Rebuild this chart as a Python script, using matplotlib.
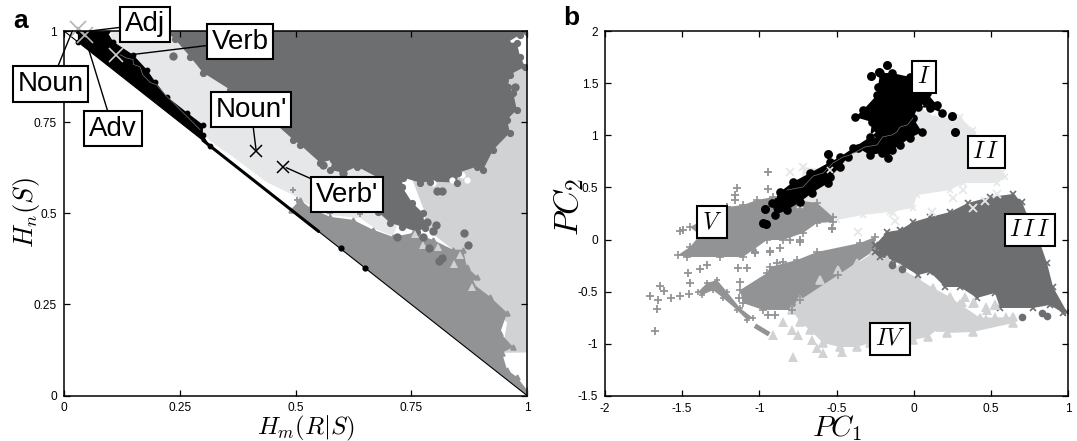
import matplotlib
matplotlib.use("Agg")
import matplotlib.pyplot as plt

plt.rcParams['font.family'] = ['Liberation Sans', 'DejaVu Sans']
plt.rcParams['mathtext.fontset'] = 'cm'

DARK, MID, LIGHT, PALE = '#6d6e70', '#929395', '#d1d2d4', '#e6e7e8'

# ---------- panel a ----------
a_ticks = [0, 0.25, 0.5, 0.75, 1]
a_ticklabels = ['0', '0.25', '0.5', '0.75', '1']

a_pale_x = [.099, .30, .70, .72, .711, .676, .639, .568, .516, .495, .438, .365, .330, .300, .20, .11]
a_pale_y = [1.0, 1.0, .70, .47, .437, .455, .487, .496, .533, .550, .585, .655, .685, .715, .84, .95]

a_light_x = [.963, .996, 1.0, 1.0, .946, .957, .88, .84, .78, .78, .75]
a_light_y = [.880, .902, .905, .118, .117, .20, .30, .40, .46, .50, .60]

a_mid_x = [.490, .510, .531, .575, .624, .667, .711, .754, .797, .840, .862, .870, .892, .881, .920, .957, .942, .970, .946, .957, .978, 1.0, 1.0]
a_mid_y = [.510, .537, .515, .490, .482, .455, .435, .446, .427, .400, .400, .353, .326, .309, .271, .227, .172, .133, .117, .070, .051, .015, 0.0]

a_dark_x = [.220, .240, .272, .300, .359, .430, .495, .510, .553, .581, .575, .603, .633, .678, .678, .704, .730, .762, .780, .775, .752, .730, .732, .769, .790, .849, .851, .892, .905, .927, .963, .957, .978, .970, .959, .963, .996, .985, .978, .957, .985, 1.0, 1.0]
a_dark_y = [1.0, .977, .930, .886, .839, .776, .702, .688, .639, .647, .619, .611, .628, .598, .504, .474, .463, .449, .460, .501, .529, .573, .598, .584, .587, .584, .611, .628, .619, .674, .721, .757, .784, .831, .847, .880, .902, .930, .968, .968, .990, .996, 1.0]

a_black_x = [.052, .093, .106, .149, .179, .197, .222, .266, .300, .300, .315, .03, .03]
a_black_y = [1.0, .999, .971, .935, .894, .861, .820, .776, .743, .716, .685, .97, 1.0]
a_strip_x = [.30, .55]
a_strip_y = [.70, .45]
a_bump_x = [.598, .650]
a_bump_y = [.404, .350]

a_vein_x = [.121, .135, .149, .150, .164, .170, .186, .200, .222, .235, .257, .262, .294]
a_vein_y = [.935, .926, .922, .908, .902, .880, .859, .852, .820, .805, .776, .770, .729]

a_dots_x = [.784, .803, .797, .775, .719, .788, .816, .810, .864, .873, .806, .816, .974, .235, .559, .603]
a_dots_y = [.477, .468, .452, .435, .435, .405, .378, .369, .446, .413, .562, .562, .847, .932, .633, .611]
a_tri_x = [.758, .808, .842, .855, .775, .881]
a_tri_y = [.444, .408, .361, .386, .413, .298]
a_plus_x = [.495, .503, .575, .639]
a_plus_y = [.565, .537, .501, .499]
a_white_x = [.741, .746, .797, .860, .838, .870]
a_white_y = [.584, .570, .584, .606, .592, .590]

a_cross_gray_x = [.030, .045]
a_cross_gray_y = [1.006, .990]
a_cross_verb_x = [.112]
a_cross_verb_y = [.935]
a_cross_prime_x = [.415, .473]
a_cross_prime_y = [.672, .628]

a_labels = ['Noun', 'Adj', 'Adv', 'Verb', "Noun'", "Verb'"]
a_label_x = [-.029, .175, .106, .380, .404, .611]
a_label_y = [.854, 1.018, .732, .971, .784, .551]
a_target_x = [.018, .056, .052, .145, .415, .480]
a_target_y = [1.0, 1.0, .955, .935, .672, .625]

# ---------- panel b ----------
b_xticks = [-2, -1.5, -1, -0.5, 0, 0.5, 1]
b_xticklabels = ['-2', '-1.5', '-1', '-0.5', '0', '0.5', '1']
b_yticks = [-1.5, -1, -0.5, 0, 0.5, 1, 1.5, 2]
b_yticklabels = ['-1.5', '-1', '-0.5', '0', '0.5', '1', '1.5', '2']

b_pale_x = [.041, .151, .300, .385, .572, .592, .540, .320, .235, .022, -.004, -.153, -.328, -.497, -.736, -.717, -.542, -.270]
b_pale_y = [1.262, 1.166, 1.175, 1.051, .648, .600, .542, .542, .475, .427, .303, .264, .236, .188, .331, .696, .667, 1.003]

b_iv_x = [-.263, -.367, -.490, -.607, -.736, -.788, -.736, -.672, -.587, -.477, -.367, -.283, -.004, .093, .171, .216, .384, .644, .644, .430, .300, .235, .125, .022, -.089, -.173]
b_iv_y = [-.129, -.225, -.292, -.388, -.579, -.675, -.790, -.867, -.992, -1.030, -1.030, -.992, -.963, -.934, -.838, -.896, -.886, -.800, -.743, -.750, -.620, -.550, -.464, -.369, -.273, -.196]

b_v_top_x = [-1.527, -1.449, -1.384, -1.449, -1.209, -1.106, -1.015, -.911, -.626, -.523, -.523, -.626, -.717, -.847, -.950, -1.041, -1.106, -1.255, -1.469]
b_v_top_y = [-.148, -.071, .044, .120, .312, .331, .379, .408, .351, .216, .168, .159, .063, -.004, -.004, -.100, -.167, -.167, -.167]

b_v_mid_x = [-1.125, -.950, -.931, -.756, -.626, -.348, -.250, -.250, -.490, -.736, -.788, -.976, -1.106]
b_v_mid_y = [-.484, -.321, -.263, -.196, -.119, -.033, .025, -.100, -.340, -.579, -.675, -.675, -.608]

b_v_low_x = [-1.397, -1.339, -1.274, -1.209, -1.125, -1.041, -1.080, -1.145, -1.235, -1.300, -1.371]
b_v_low_y = [-.503, -.416, -.388, -.503, -.656, -.752, -.771, -.675, -.560, -.484, -.532]
b_v_dash_x = [-1.015, -.950]
b_v_dash_y = [-.838, -.896]

b_iii_x = [-.250, -.173, -.089, -.004, .106, .235, .352, .495, .644, .702, .741, .819, .864, .903, .994, .968, .883, .773, .560, .527, .410, .300, .203, .106, .028, -.134, -.218, -.250]
b_iii_y = [-.052, .073, .092, .168, .216, .264, .351, .408, .437, .360, .216, -.033, -.225, -.455, -.695, -.704, -.627, -.656, -.656, -.512, -.560, -.455, -.455, -.311, -.340, -.196, -.167, -.119]

b_i_x = [-.231, -.218, -.140, -.024, .086, .151, .184, .106, .028, -.004, .054, -.024, -.089, -.140, -.166, -.205, -.283, -.361, -.425, -.477, -.542, -.555, -.659, -.736, -.821, -.898, -.918, -.866, -.782, -.672, -.542, -.477, -.393, -.283, -.270, -.380, -.328, -.238]
b_i_y = [1.463, 1.597, 1.597, 1.559, 1.405, 1.290, 1.214, 1.262, 1.271, 1.166, 1.031, .974, .907, .859, .782, .830, .811, .878, .792, .696, .600, .542, .447, .360, .283, .236, .351, .456, .552, .638, .744, .792, .878, .983, 1.127, 1.175, 1.242, 1.386]
b_i_dots_x = [-.173, -.276, .248, .268, -.555, -.963, -.976, -.955, -.225]
b_i_dots_y = [1.674, 1.568, 1.185, 1.031, .820, .293, .159, .145, 1.610]

b_vein_x = [-.004, -.040, -.089, -.110, -.140, -.200, -.238, -.315, -.412, -.460, -.523, -.587, -.650, -.717, -.821]
b_vein_y = [1.166, 1.100, 1.079, 1.030, 1.003, .985, .907, .888, .811, .790, .734, .638, .610, .504, .475]

b_plus_x = [-1.708, -1.644, -1.618, -1.657, -1.663, -1.676, -1.572, -1.514, -1.456, -1.449, -1.462, -1.384, -1.339, -1.125, -1.132, -1.138, -1.080, -1.028, -.931, -.866, -.885, -.847, -.944, -.898, -.801, -.736, -.944, -.944, -1.145, -1.158, -1.158, -1.209, -1.514, -1.495, -.736, -.529, -1.028, -.931, -.529]
b_plus_y = [-.541, -.445, -.493, -.579, -.666, -.877, -.560, -.541, -.522, -.416, -.321, -.282, -.244, -.407, -.560, -.273, -.273, -.119, -.119, -.081, -.225, -.215, -.723, -.723, -.004, -.004, .648, .485, .494, .427, .379, .312, .082, .092, -.023, .111, -.129, -.110, .101]
b_cross_x = [-.801, -.717, -.361, -.134, -.121, .119, .255, .320]
b_cross_y = [.648, .696, .073, .255, .178, .264, .399, .475]
b_cross_white_x = [.385, .462, .540]
b_cross_white_y = [.303, .370, .437]
b_tri_x = [-.911, -.847, -.782, -.788, -.749, -.659, -.626, -.587, -.464, .333, .384, .475, .527, .320, .300, .31, .39, .47, .53, .60, .53, .47, .40, .31]
b_tri_y = [-.915, -.790, -1.126, -.867, -.915, -.963, -1.040, -1.088, -1.078, -.551, -.608, -.675, -.627, -.743, -.630, -.60, -.60, -.65, -.62, -.74, -.74, -.76, -.80, -.76]
b_dark_dots_x = [.702, .832, .864, -.140, -.075, .028]
b_dark_dots_y = [-.742, -.704, -.733, -.244, -.282, -.263]

b_labels = [r'$I$', r'$I\,I$', r'$I\,I\,I$', r'$IV$', r'$V$']
b_label_x = [.067, .469, .754, -.153, -1.307]
b_label_y = [1.559, .840, .092, -.953, .168]

W, H = 1077, 441
fig = plt.figure(figsize=(W / 100, H / 100), dpi=100)
axa = fig.add_axes([64 / W, 1 - 395.5 / H, 463 / W, 364.5 / H])
axb = fig.add_axes([605 / W, 1 - 396 / H, 463 / W, 365 / H])


def region(ax, xs, ys, color, marker=None, ms=4):
    ax.fill(xs, ys, color=color, lw=0)
    if marker:
        ax.plot(xs, ys, ls='', marker=marker, ms=ms, color=color, mew=1.2)


# panel a drawing
region(axa, a_pale_x, a_pale_y, PALE)
region(axa, a_light_x, a_light_y, LIGHT)
axa.plot(a_white_x, a_white_y, ls='', marker='o', ms=4.5, color='white', mew=0)
region(axa, a_mid_x, a_mid_y, MID, '^', 3.5)
axa.plot(a_plus_x, a_plus_y, ls='', marker='+', ms=5, color=MID, mew=1.3)
region(axa, a_dark_x, a_dark_y, DARK, 'o', 4)
axa.plot(a_tri_x, a_tri_y, ls='', marker='^', ms=6, color=LIGHT, mew=0)
axa.plot(a_dots_x, a_dots_y, ls='', marker='o', ms=6, color=DARK, mew=0)
region(axa, a_black_x, a_black_y, 'black', 'o', 3)
axa.plot(a_strip_x, a_strip_y, color='black', lw=2.2, solid_capstyle='round')
axa.plot(a_bump_x, a_bump_y, ls='', marker='o', ms=4.5, color='black', mew=0)
axa.plot(a_vein_x, a_vein_y, color='#777777', lw=0.5)
axa.plot([0, 1], [1, 0], color='black', lw=0.8)
axa.plot(a_cross_gray_x, a_cross_gray_y, ls='', marker='x', ms=11, mew=1.2, color='#b5b5b5', clip_on=False, zorder=6)
axa.plot(a_cross_verb_x, a_cross_verb_y, ls='', marker='x', ms=10, mew=1.2, color='#cfcfcf', zorder=6)
axa.plot(a_cross_prime_x, a_cross_prime_y, ls='', marker='x', ms=9, mew=1.1, color='black', zorder=6)
for lab, lx, ly, tx, ty in zip(a_labels, a_label_x, a_label_y, a_target_x, a_target_y):
    axa.annotate(lab, xy=(tx, ty), xytext=(lx, ly), ha='center', va='center', fontsize=20,
                 annotation_clip=False, zorder=8,
                 bbox=dict(boxstyle='square,pad=0.17', fc='white', ec='black', lw=1.5),
                 arrowprops=dict(arrowstyle='-', color='black', lw=1, shrinkA=0, shrinkB=0))
axa.set_xlim(0, 1)
axa.set_ylim(0, 1)
axa.set_xticks(a_ticks, a_ticklabels)
axa.set_yticks(a_ticks, a_ticklabels)

# panel b drawing
region(axb, b_pale_x, b_pale_y, PALE, 'x', 4)
region(axb, b_iv_x, b_iv_y, LIGHT, '^', 6)
region(axb, b_v_top_x, b_v_top_y, MID, '+', 6)
region(axb, b_v_mid_x, b_v_mid_y, MID, '+', 6)
region(axb, b_v_low_x, b_v_low_y, MID, '+', 5)
axb.plot(b_v_dash_x, b_v_dash_y, color=MID, lw=3.5)
region(axb, b_iii_x, b_iii_y, DARK, 'x', 4)
axb.plot(b_plus_x, b_plus_y, ls='', marker='+', ms=6, color=MID, mew=1.3)
axb.plot(b_cross_x, b_cross_y, ls='', marker='x', ms=6, color=PALE, mew=1.3)
axb.plot(b_cross_white_x, b_cross_white_y, ls='', marker='x', ms=6, color=PALE, mew=1.3, zorder=4)
axb.plot(b_tri_x, b_tri_y, ls='', marker='^', ms=7, color=LIGHT, mew=0)
axb.plot(b_dark_dots_x, b_dark_dots_y, ls='', marker='o', ms=5.5, color=DARK, mew=0)
region(axb, b_i_x, b_i_y, 'black', 'o', 5)
axb.plot(b_i_dots_x, b_i_dots_y, ls='', marker='o', ms=6.5, color='black', mew=0)
axb.plot(b_vein_x, b_vein_y, color='#777777', lw=0.5)
for lab, lx, ly in zip(b_labels, b_label_x, b_label_y):
    axb.text(lx, ly, lab, ha='center', va='center', fontsize=17, zorder=8,
             bbox=dict(boxstyle='square,pad=0.2', fc='white', ec='black', lw=1.5))
axb.set_xlim(-2, 1)
axb.set_ylim(-1.5, 2)
axb.set_xticks(b_xticks, b_xticklabels)
axb.set_yticks(b_yticks, b_yticklabels)

for ax in (axa, axb):
    ax.tick_params(direction='in', top=True, right=True, length=4, width=0.9, labelsize=8.6, pad=5)
    for s in ax.spines.values():
        s.set_linewidth(1.1)
        s.set_zorder(7)


def ftext(px, py, s, **kw):
    fig.text(px / W, 1 - py / H, s, ha='center', va='center', **kw)


ftext(306, 428, r'$H_m(R|S)$', fontsize=18)
ftext(27, 213, r'$H_n(S)$', fontsize=19, rotation=90)
ftext(837, 428, r'$PC_1$', fontsize=21)
ftext(569, 207, r'$PC_2$', fontsize=24, rotation=90)
ftext(21, 21, 'a', fontsize=19, fontweight='bold')
ftext(571, 18, 'b', fontsize=19, fontweight='bold')

fig.savefig('out.png', dpi=100)
